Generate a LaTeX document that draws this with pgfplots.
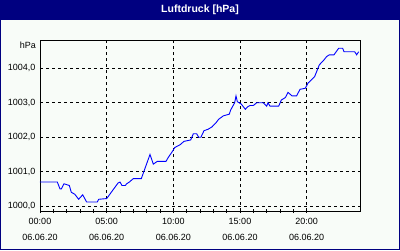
\documentclass[border=0pt]{standalone}
\usepackage{pgfplots}
\pgfplotsset{compat=1.18}
\usepackage{fontspec}
\setmainfont{Liberation Sans}
\definecolor{navy}{RGB}{0,0,128}
\definecolor{bg}{RGB}{248,252,248}
\definecolor{lineblue}{RGB}{0,0,255}
\begin{document}
\begin{tikzpicture}
\path[use as bounding box] (0pt,0pt) rectangle (400pt,250pt);
\fill[navy] (0pt,0pt) rectangle (400pt,250pt);
\fill[bg] (1pt,1pt) rectangle (399pt,230pt);
\node[text=white,font=\bfseries\fontsize{10.5}{12}\selectfont] at (200pt,240.5pt) {Luftdruck [hPa]};
\begin{axis}[
  at={(40pt,39pt)}, anchor=south west,
  scale only axis, width=320pt, height=171pt,
  xmin=0, xmax=24, ymin=999.86, ymax=1004.82,
  xtick={0,5,10,15,20},
  xticklabels={{00:00\\[5.5pt]06.06.20},{05:00\\[5.5pt]06.06.20},{10:00\\[5.5pt]06.06.20},{15:00\\[5.5pt]06.06.20},{20:00\\[5.5pt]06.06.20}},
  minor x tick num=4,
  ytick={1000,1001,1002,1003,1004},
  yticklabels={{1000,0},{1001,0},{1002,0},{1003,0},{1004,0}},
  xtick pos=bottom, ytick pos=left,
  ytick style={draw=none},
  tick align=center,
  major tick length=4pt, minor tick length=4pt,
  every tick/.style={black, line width=0.8pt},
  grid=major,
  major grid style={black, line width=0.8pt, dash pattern=on 3pt off 3pt},
  axis line style={black, line width=0.9pt},
  xticklabel style={align=center, font=\fontsize{9}{10}\selectfont, yshift=-2pt},
  yticklabel style={font=\fontsize{9}{10}\selectfont, xshift=1pt},
  /pgf/number format/assume math mode=true,
  clip mode=individual,
]
\addplot[lineblue, line width=0.9pt] coordinates {
(0,1000.70) (1.3,1000.70) (1.5,1000.50) (1.6,1000.50) (1.8,1000.65) (2.2,1000.60)
(2.35,1000.40) (2.6,1000.35) (2.9,1000.20) (3.2,1000.33) (3.5,1000.12) (4.3,1000.12)
(4.4,1000.20) (5.0,1000.22) (5.85,1000.67) (6.0,1000.70) (6.15,1000.60) (6.4,1000.60)
(6.5,1000.65) (6.7,1000.70) (7.0,1000.80) (7.6,1000.80) (8.25,1001.50) (8.5,1001.22)
(8.8,1001.30) (9.45,1001.30) (9.6,1001.40) (10.0,1001.63) (10.1,1001.70) (10.5,1001.78)
(10.8,1001.88) (11.3,1001.92) (11.5,1002.10) (11.75,1002.10) (11.9,1002.00) (12.07,1002.00)
(12.3,1002.19) (12.6,1002.23) (12.9,1002.30) (13.2,1002.42) (13.4,1002.52) (13.75,1002.62)
(14.2,1002.67) (14.3,1002.79) (14.6,1003.00) (14.7,1003.20) (14.8,1003.03) (15.1,1002.96)
(15.4,1002.81) (15.6,1002.89) (15.75,1002.92) (16.0,1002.92) (16.25,1003.00) (16.75,1003.00)
(17.0,1002.90) (17.1,1003.00) (17.25,1002.90) (17.9,1002.90) (18.1,1003.08) (18.4,1003.15)
(18.6,1003.30) (18.9,1003.20) (19.25,1003.20) (19.5,1003.39) (19.9,1003.42) (20.1,1003.57)
(20.4,1003.68) (20.6,1003.76) (20.95,1004.10) (21.25,1004.22) (21.5,1004.34) (21.7,1004.39)
(22.05,1004.39) (22.4,1004.58) (22.7,1004.58) (22.8,1004.48) (23.6,1004.48) (23.75,1004.39)
(23.9,1004.48)
};
\node[anchor=north east, font=\fontsize{9}{10}\selectfont, inner sep=0pt] at (rel axis cs:0,1) [xshift=-4pt, yshift=-2pt] {hPa};
\end{axis}
\end{tikzpicture}
\end{document}
